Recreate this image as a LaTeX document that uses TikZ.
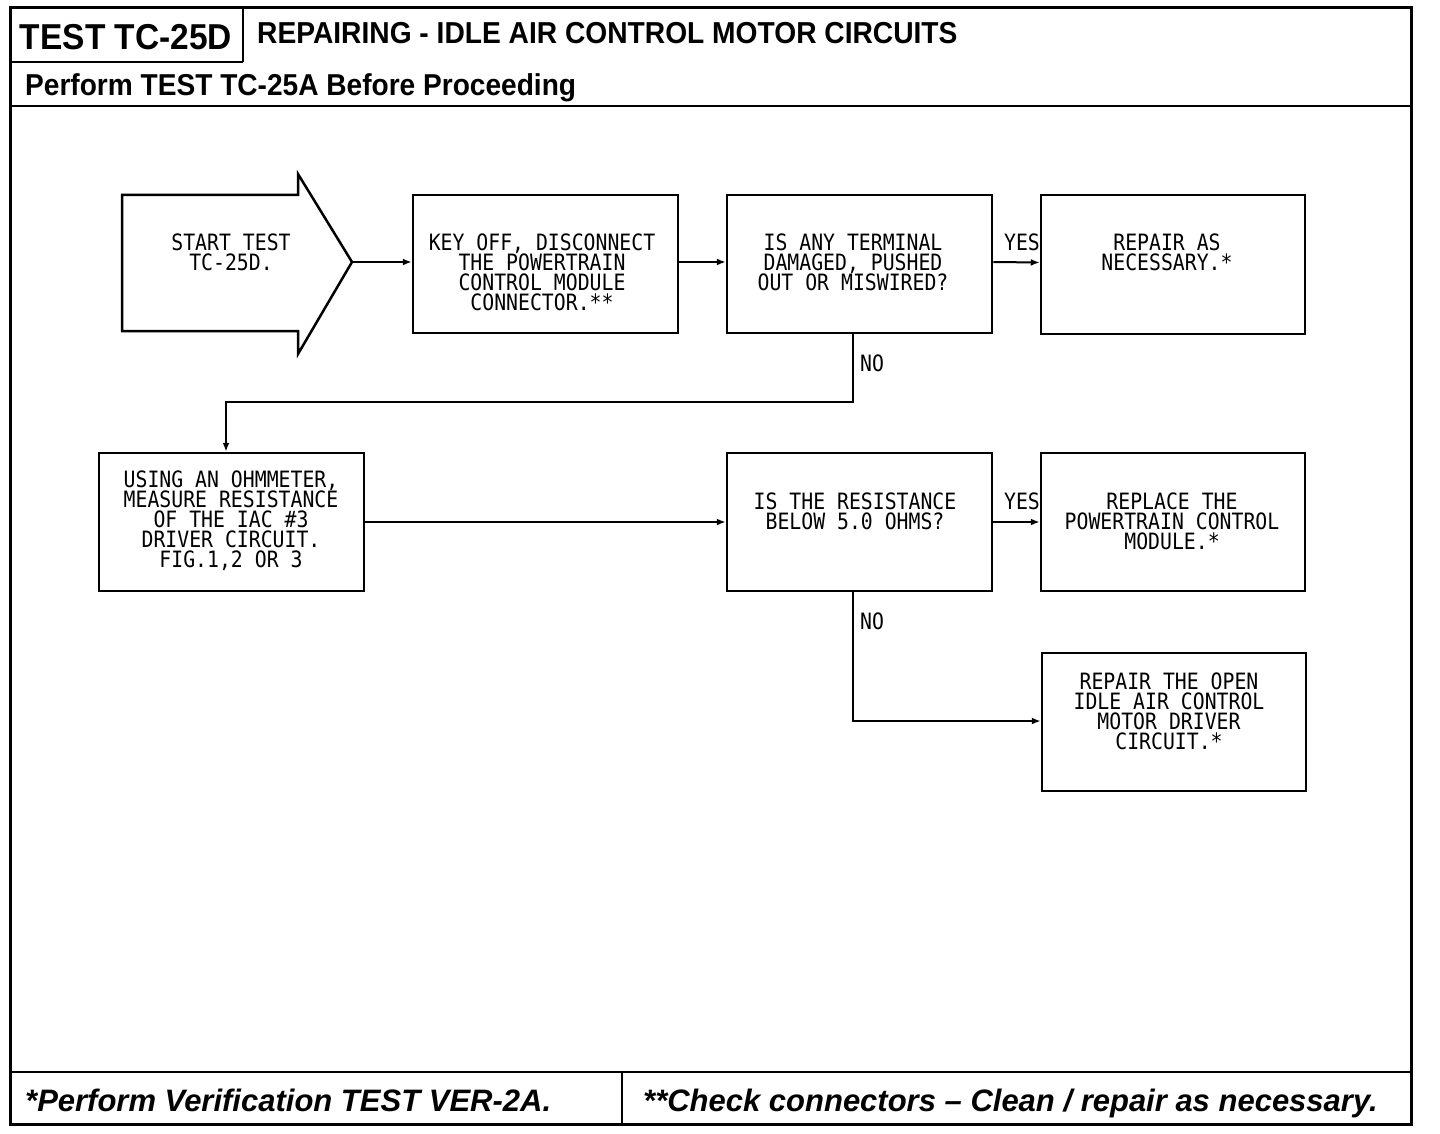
\documentclass[tikz,border=0pt]{standalone}
\usepackage{fontspec}
\usepackage{graphicx}
\setmainfont{Liberation Sans}
\newfontfamily\plotfont[FakeStretch=0.88]{DejaVu Sans Mono}
\newfontfamily\headfont[FakeStretch=0.93]{Liberation Sans}
\usetikzlibrary{arrows.meta}
\tikzset{
  frame/.style={line width=3pt},
  rule/.style={line width=2.5pt},
  box/.style={draw, line width=2.5pt, rectangle, inner sep=0pt},
  ptext/.style={font=\plotfont\fontsize{22.5}{20}\selectfont, align=center, inner sep=0pt},
  conn/.style={line width=2pt, -{Latex[length=9pt,width=7pt]}},
  lbl/.style={font=\plotfont\fontsize{22.5}{20}\selectfont, inner sep=0pt},
  foot/.style={font=\bfseries\itshape\fontsize{31}{34}\selectfont, inner sep=0pt, anchor=base west},
}
\begin{document}
\begin{tikzpicture}[x=1pt,y=-1pt]
\useasboundingbox (0,0) rectangle (1440,1134);
% frame
\draw[frame] (10,8) rectangle (1411,1124);
\draw[rule] (243,8) -- (243,62);
\draw[rule] (10,62) -- (243,62);
\draw[rule] (10,106) -- (1411,106);
\draw[rule] (10,1072) -- (1411,1072);
\draw[rule] (622,1072) -- (622,1124);
% header texts
\node[font=\headfont\bfseries\fontsize{36}{40}\selectfont, inner sep=0pt, anchor=base] (hid) at (126,50) {TEST TC-25D};
\node[font=\headfont\bfseries\fontsize{30.3}{32}\selectfont, inner sep=0pt, anchor=base west] (htitle) at (257,44) {REPAIRING - IDLE AIR CONTROL MOTOR CIRCUITS};
\node[font=\headfont\bfseries\fontsize{30.2}{32}\selectfont, inner sep=0pt, anchor=base west] (hsub) at (25,96) {Perform TEST TC-25A Before Proceeding};
% footer texts
\node[foot] (f1) at (25,1111) {*Perform Verification TEST VER-2A.};
\node[foot] (f2) at (643,1111) {**Check connectors -- Clean / repair as necessary.};
% start arrow
\draw[line width=2.5pt, line join=miter] (122,195) -- (298,195) -- (298,174) -- (352,262) -- (298,354) -- (298,331) -- (122,331) -- cycle;
\coordinate (tip) at (352,262);
\node[ptext] (ta) at (231,252) {START TEST\\TC-25D.};
% boxes
\node[box, minimum width=265pt, minimum height=138pt] (b) at (545.5,264) {};
\node[box, minimum width=265pt, minimum height=138pt] (c) at (859.5,264) {};
\node[box, minimum width=264pt, minimum height=139pt] (d) at (1173,264.5) {};
\node[box, minimum width=265pt, minimum height=138pt] (e) at (231.5,522) {};
\node[box, minimum width=265pt, minimum height=138pt] (f) at (859.5,522) {};
\node[box, minimum width=264pt, minimum height=138pt] (g) at (1173,522) {};
\node[box, minimum width=264pt, minimum height=138pt] (h) at (1174,722) {};
% box texts
\node[ptext] (tb) at (542,272) {KEY OFF, DISCONNECT\\THE POWERTRAIN\\CONTROL MODULE\\CONNECTOR.**};
\node[ptext] (tc) at (853,262) {IS ANY TERMINAL\\DAMAGED, PUSHED\\OUT OR MISWIRED?};
\node[ptext] (td) at (1167,252) {REPAIR AS\\NECESSARY.*};
\node[ptext] (te) at (231,521) {USING AN OHMMETER,\\MEASURE RESISTANCE\\OF THE IAC \#3\\DRIVER CIRCUIT.\\FIG.1,2 OR 3};
\node[ptext] (tf) at (855,511) {IS THE RESISTANCE\\BELOW 5.0 OHMS?};
\node[ptext] (tg) at (1172,521) {REPLACE THE\\POWERTRAIN CONTROL\\MODULE.*};
\node[ptext] (th) at (1169,711) {REPAIR THE OPEN\\IDLE AIR CONTROL\\MOTOR DRIVER\\CIRCUIT.*};
% connectors
\draw[conn] (tip) -- (tip -| b.west);
\draw[conn] ([yshift=2pt]b.east) -- ([yshift=2pt]c.west);
\draw[conn] ([yshift=2pt]c.east) -- ([yshift=2pt]d.west);
\coordinate (k1) at (853,402);
\draw[conn] (c.south -| k1) -- (k1) -| ([xshift=-5.5pt]e.north);
\draw[conn] (e.east) -- (f.west);
\draw[conn] (f.east) -- (g.west);
\coordinate (k2) at (853,721);
\draw[conn] (f.south -| k2) -- (k2) -- (k2 -| h.west);
% labels
\node[lbl] (y1) at (1022,242) {YES};
\node[lbl] (y2) at (1022,501) {YES};
\node[lbl] (n1) at (872,363) {NO};
\node[lbl] (n2) at (872,621) {NO};
\end{tikzpicture}
\end{document}
